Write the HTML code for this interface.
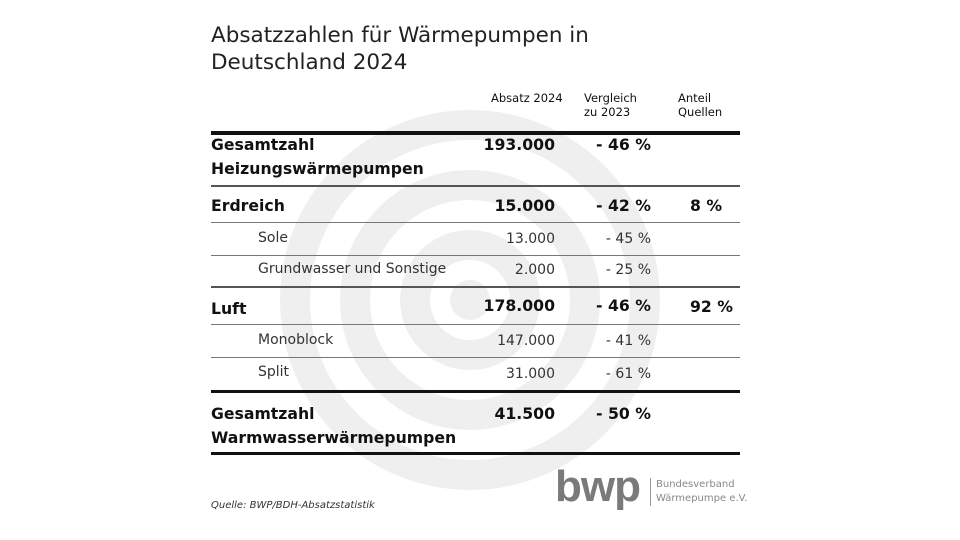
<!DOCTYPE html>
<html><head><meta charset="utf-8"><style>
body{margin:0;width:960px;height:540px;background:#fff;position:relative;overflow:hidden;font-family:"DejaVu Sans","Liberation Sans",sans-serif;color:#111}
.t{position:absolute;white-space:nowrap}
.b{font-weight:bold;font-size:15.7px}
.n{font-size:14px;color:#333}
.r{text-align:right}
.l{position:absolute;left:211px;width:529px;background:#555}
</style></head><body>
<svg width="960" height="540" style="position:absolute;left:0;top:0">
<g fill="none" stroke="#efefef" stroke-width="30">
<circle cx="470" cy="300" r="175"/>
<circle cx="470" cy="300" r="115"/>
<circle cx="470" cy="300" r="55"/>
</g>
<circle cx="470" cy="300" r="20" fill="#efefef"/>
</svg>
<div class="t" style="left:211px;top:22px;font-size:21.5px;line-height:27px;color:#222">Absatzzahlen für Wärmepumpen in<br>Deutschland 2024</div>
<div class="t" style="left:491px;top:91px;font-size:11.5px;line-height:14px">Absatz 2024</div>
<div class="t" style="left:584px;top:91px;font-size:11.5px;line-height:14px">Vergleich<br>zu 2023</div>
<div class="t" style="left:678px;top:91px;font-size:11.5px;line-height:14px">Anteil<br>Quellen</div>
<div class="l" style="top:131px;height:4px;background:#111"></div>
<div class="t b" style="left:211px;top:133px;line-height:24px">Gesamtzahl<br>Heizungswärmepumpen</div>
<div class="t b r" style="left:455px;width:100px;top:133px;line-height:24px">193.000</div>
<div class="t b r" style="left:551px;width:100px;top:133px;line-height:24px">- 46 %</div>
<div class="l" style="top:185px;height:2px"></div>
<div class="t b" style="left:211px;top:196px">Erdreich</div>
<div class="t b r" style="left:455px;width:100px;top:196px">15.000</div>
<div class="t b r" style="left:551px;width:100px;top:196px">- 42 %</div>
<div class="t b" style="left:690px;top:196px">8 %</div>
<div class="l" style="top:222px;height:1px;background:#777"></div>
<div class="t n" style="left:258px;top:230px">Sole</div>
<div class="t n r" style="left:455px;width:100px;top:231px">13.000</div>
<div class="t n r" style="left:551px;width:100px;top:231px">- 45 %</div>
<div class="l" style="top:255px;height:1px;background:#777"></div>
<div class="t n" style="left:258px;top:261px">Grundwasser und Sonstige</div>
<div class="t n r" style="left:455px;width:100px;top:262px">2.000</div>
<div class="t n r" style="left:551px;width:100px;top:262px">- 25 %</div>
<div class="l" style="top:286px;height:2px"></div>
<div class="t b" style="left:211px;top:299px">Luft</div>
<div class="t b r" style="left:455px;width:100px;top:296px">178.000</div>
<div class="t b r" style="left:551px;width:100px;top:296px">- 46 %</div>
<div class="t b" style="left:690px;top:297px">92 %</div>
<div class="l" style="top:324px;height:1px;background:#777"></div>
<div class="t n" style="left:258px;top:332px">Monoblock</div>
<div class="t n r" style="left:455px;width:100px;top:333px">147.000</div>
<div class="t n r" style="left:551px;width:100px;top:333px">- 41 %</div>
<div class="l" style="top:357px;height:1px;background:#777"></div>
<div class="t n" style="left:258px;top:364px">Split</div>
<div class="t n r" style="left:455px;width:100px;top:366px">31.000</div>
<div class="t n r" style="left:551px;width:100px;top:366px">- 61 %</div>
<div class="l" style="top:390px;height:3px;background:#111"></div>
<div class="t b" style="left:211px;top:402px;line-height:24px">Gesamtzahl<br>Warmwasserwärmepumpen</div>
<div class="t b r" style="left:455px;width:100px;top:402px;line-height:24px">41.500</div>
<div class="t b r" style="left:551px;width:100px;top:402px;line-height:24px">- 50 %</div>
<div class="l" style="top:452px;height:3px;background:#111"></div>
<div class="t" style="left:211px;top:500px;font-size:10px;font-style:italic;color:#333">Quelle: BWP/BDH-Absatzstatistik</div>
<div class="t" style="left:555px;top:462px;font-size:44px;font-weight:bold;color:#7a7a7a;letter-spacing:-1px;font-family:'Liberation Sans',sans-serif">bwp</div>
<div style="position:absolute;left:650px;top:478px;width:1px;height:28px;background:#999"></div>
<div class="t" style="left:656px;top:478px;font-size:10px;line-height:14px;color:#888">Bundesverband<br>Wärmepumpe e.V.</div>
</body></html>
